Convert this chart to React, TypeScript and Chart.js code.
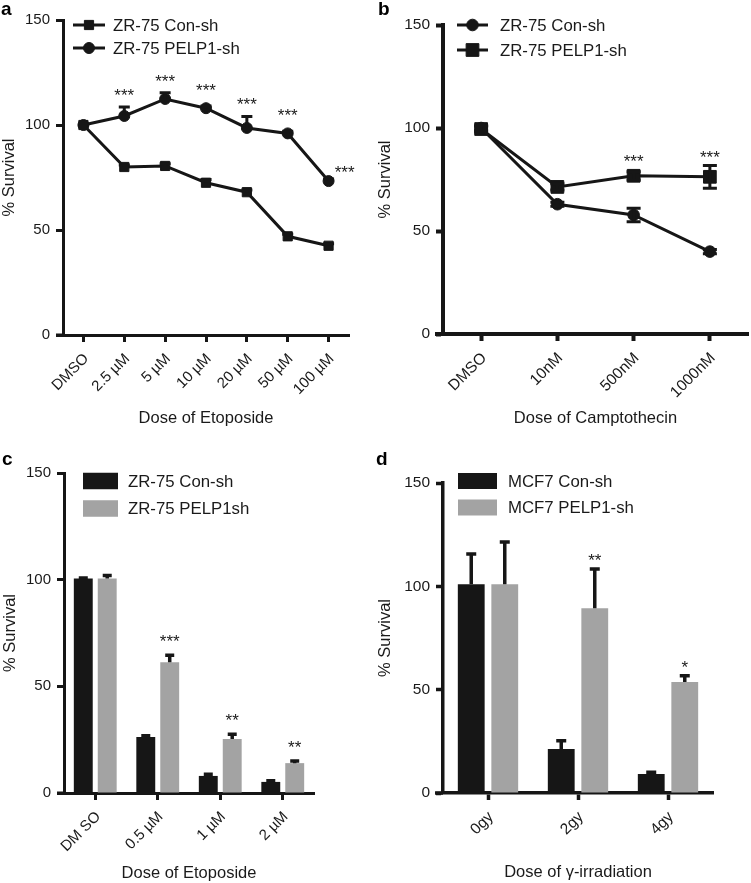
import React, { useEffect, useRef } from 'react';
import { Chart, registerables } from 'chart.js';

Chart.register(...registerables);

const FONT = "'Liberation Sans', Arial, Helvetica, sans-serif";
const INK = '#161616';
const TEXT = '#1a1a1a';
const GREY = '#a3a3a3';

// ---------- Panel a: ZR-75, etoposide (line)
const aDoses = ['DMSO', '2.5 µM', '5 µM', '10 µM', '20 µM', '50 µM', '100 µM'];
const aConSh = [100, 80, 80.5, 72.5, 68, 47, 42.5];
const aConShErr = [0, 1, 1, 1.5, 1, 1, 1];
const aPelp1Sh = [100, 104.3, 112.4, 108, 98.6, 96, 73.3];
const aPelp1ShErr = [0, 4.3, 3, 1, 5.5, 1, 1];
const aSig = ['', '***', '***', '***', '***', '***', '***'];

// ---------- Panel b: ZR-75, camptothecin (line)
const bDoses = ['DMSO', '10nM', '500nM', '1000nM'];
const bConSh = [100, 63, 57.8, 40];
const bConShErr = [1, 1, 3.3, 1];
const bPelp1Sh = [99.5, 71.4, 76.8, 76.3];
const bPelp1ShErr = [1.5, 1.5, 2, 5.5];
const bSig = ['', '', '***', '***'];

// ---------- Panel c: ZR-75, etoposide (bars)
const cDoses = ['DM SO', '0.5 µM', '1 µM', '2 µM'];
const cConSh = [100.5, 26.3, 8, 5.2];
const cConShErr = [0.3, 0.5, 0.8, 0.5];
const cPelp1sh = [100.5, 61.3, 25.3, 14];
const cPelp1shErr = [1.5, 3.3, 2.2, 1];
const cSig = ['', '***', '**', '**'];

// ---------- Panel d: MCF7, gamma irradiation (bars)
const dDoses = ['0gy', '2gy', '4gy'];
const dConSh = [101, 21.3, 9.2];
const dConShErr = [14.6, 4, 0.8];
const dPelp1Sh = [101, 89.4, 53.7];
const dPelp1ShErr = [20.4, 19, 3];
const dSig = ['', '**', '*'];

const yTicks = [0, 50, 100, 150];

// ---------- plugins
type ErrOpts = { upperOnly: boolean; cap: number; width: number };
const errorBars = (o: ErrOpts) => ({
  id: 'errorBars',
  afterDatasetsDraw(chart: any) {
    const { ctx } = chart;
    const ys = chart.scales.y;
    chart.data.datasets.forEach((ds: any, di: number) => {
      const errs: number[] | undefined = ds.errors;
      if (!errs) return;
      chart.getDatasetMeta(di).data.forEach((el: any, i: number) => {
        const e = errs[i];
        if (!e) return;
        const v = ds.data[i];
        const x = el.x;
        const top = ys.getPixelForValue(v + e);
        const bot = o.upperOnly ? ys.getPixelForValue(v) : ys.getPixelForValue(v - e);
        ctx.save();
        ctx.strokeStyle = INK;
        ctx.lineWidth = o.width;
        ctx.beginPath();
        ctx.moveTo(x, bot);
        ctx.lineTo(x, top);
        ctx.moveTo(x - o.cap, top);
        ctx.lineTo(x + o.cap, top);
        if (!o.upperOnly) {
          ctx.moveTo(x - o.cap, bot);
          ctx.lineTo(x + o.cap, bot);
        }
        ctx.stroke();
        ctx.restore();
      });
    });
  },
});

type SigOpts = { dataset: number; gap: number; size: number; clear: number; sideLast?: boolean };
const sigMarks = (labels: string[], o: SigOpts) => ({
  id: 'sigMarks',
  afterDatasetsDraw(chart: any) {
    const { ctx } = chart;
    const ys = chart.scales.y;
    const ds: any = chart.data.datasets[o.dataset];
    const meta = chart.getDatasetMeta(o.dataset);
    ctx.save();
    ctx.fillStyle = TEXT;
    ctx.font = `${o.size}px ${FONT}`;
    ctx.textAlign = 'center';
    ctx.textBaseline = 'alphabetic';
    labels.forEach((lab, i) => {
      if (!lab) return;
      const el: any = meta.data[i];
      const v = ds.data[i];
      const e = (ds.errors && ds.errors[i]) || 0;
      let x = el.x;
      let cy = Math.min(ys.getPixelForValue(v + e), el.y - o.clear) - o.gap;
      if (o.sideLast && i === labels.length - 1) {
        x = el.x + 16;
        cy = el.y - 13;
      }
      ctx.fillText(lab, x, cy + o.size * 0.58);
    });
    ctx.restore();
  },
});

type LegendItem = { text: string; kind: 'line' | 'box'; shape?: 'rect' | 'circle'; radius?: number; color: string };
type LegendLayout = { x0: number; x1: number; textX: number; ys: number[]; boxH?: number; size: number; lineWidth?: number };
const panelLegend = (items: LegendItem[], L: LegendLayout) => ({
  id: 'panelLegend',
  afterDraw(chart: any) {
    const { ctx, chartArea: ca } = chart;
    ctx.save();
    items.forEach((it, k) => {
      const y = ca.top + L.ys[k];
      const x0 = ca.left + L.x0;
      const x1 = ca.left + L.x1;
      ctx.fillStyle = it.color;
      ctx.strokeStyle = it.color;
      if (it.kind === 'line') {
        ctx.lineWidth = L.lineWidth || 3;
        ctx.beginPath();
        ctx.moveTo(x0, y);
        ctx.lineTo(x1, y);
        ctx.stroke();
        const cx = (x0 + x1) / 2;
        const r = it.radius || 5;
        ctx.beginPath();
        if (it.shape === 'rect') {
          const h = Math.SQRT1_2 * r;
          ctx.rect(cx - h, y - h, 2 * h, 2 * h);
        } else {
          ctx.arc(cx, y, r, 0, Math.PI * 2);
        }
        ctx.fill();
        ctx.lineWidth = 1;
        ctx.stroke();
      } else {
        const h = L.boxH || 16;
        ctx.fillRect(x0, y - h / 2, x1 - x0, h);
      }
      ctx.fillStyle = TEXT;
      ctx.font = `${L.size}px ${FONT}`;
      ctx.textAlign = 'left';
      ctx.textBaseline = 'middle';
      ctx.fillText(it.text, ca.left + L.textX, y + 1);
    });
    ctx.restore();
  },
});

const frame = (letter: string, lx: number, ly: number, ext: number, bw: number) => ({
  id: 'frame',
  afterDraw(chart: any) {
    const { ctx, chartArea: ca } = chart;
    ctx.save();
    ctx.strokeStyle = INK;
    ctx.lineWidth = bw;
    ctx.beginPath();
    ctx.moveTo(ca.left - ext, ca.bottom);
    ctx.lineTo(ca.left, ca.bottom);
    ctx.stroke();
    ctx.fillStyle = '#000';
    ctx.font = `bold 19px ${FONT}`;
    ctx.textAlign = 'left';
    ctx.textBaseline = 'alphabetic';
    ctx.fillText(letter, lx, ly);
    ctx.restore();
  },
});

type AxesOpts = {
  xTitle: string; yWidth: number; xHeight: number; bw: number;
  xTitlePadBottom: number; yTitlePad: number; tickSize: number;
};
function axes(o: AxesOpts) {
  const font = { family: FONT, size: o.tickSize };
  const titleFont = { family: FONT, size: 16.5 };
  return {
    x: {
      type: 'category',
      offset: true,
      grid: { display: true, drawOnChartArea: false, drawTicks: true, tickLength: 7, tickWidth: o.bw, tickColor: INK, offset: false },
      border: { display: true, color: INK, width: o.bw },
      ticks: { color: TEXT, font, minRotation: 45, maxRotation: 45, autoSkip: false, padding: 8, labelOffset: 3 },
      title: { display: true, text: o.xTitle, color: TEXT, font: titleFont, padding: { top: 0, bottom: o.xTitlePadBottom } },
      afterFit: (s: any) => { s.height = o.xHeight; },
    },
    y: {
      min: yTicks[0],
      max: yTicks[yTicks.length - 1],
      ticks: { stepSize: yTicks[1] - yTicks[0], color: TEXT, font, padding: 6 },
      grid: { display: true, drawOnChartArea: false, tickLength: 7, tickWidth: o.bw, tickColor: INK },
      border: { display: true, color: INK, width: o.bw },
      title: { display: true, text: '% Survival', color: TEXT, font: titleFont, padding: { top: o.yTitlePad, bottom: 0 } },
      afterFit: (s: any) => { s.width = o.yWidth; },
    },
  };
}

const baseOptions = (padding: any, scales: any) => ({
  animation: false,
  responsive: false,
  devicePixelRatio: 1,
  events: [],
  layout: { padding, autoPadding: false },
  plugins: { legend: { display: false }, tooltip: { enabled: false } },
  scales,
});

const lineDs = (label: string, data: number[], errors: number[], shape: string, radius: number) => ({
  label, data, errors,
  borderColor: INK, backgroundColor: INK, borderWidth: 3,
  pointStyle: shape, pointRadius: radius,
  pointBackgroundColor: INK, pointBorderColor: INK, pointBorderWidth: 1,
  tension: 0,
});

const barDs = (label: string, data: number[], errors: number[], color: string, cp: number, bp: number) => ({
  label, data, errors,
  backgroundColor: color, borderWidth: 0,
  categoryPercentage: cp, barPercentage: bp,
});

export default function App() {
  const refA = useRef<HTMLCanvasElement>(null);
  const refB = useRef<HTMLCanvasElement>(null);
  const refC = useRef<HTMLCanvasElement>(null);
  const refD = useRef<HTMLCanvasElement>(null);

  useEffect(() => {
    const charts: Chart[] = [];

    charts.push(new Chart(refA.current as HTMLCanvasElement, {
      type: 'line',
      data: {
        labels: aDoses,
        datasets: [
          lineDs('ZR-75 Con-sh', aConSh, aConShErr, 'rect', 6.5),
          lineDs('ZR-75 PELP1-sh', aPelp1Sh, aPelp1ShErr, 'circle', 5.5),
        ] as any,
      },
      options: baseOptions({ left: 0, top: 20, right: 26, bottom: 0 },
        axes({ xTitle: 'Dose of Etoposide', yWidth: 63, xHeight: 105, bw: 3, xTitlePadBottom: 12, yTitlePad: 0, tickSize: 15 })) as any,
      plugins: [
        errorBars({ upperOnly: true, cap: 5.5, width: 3 }),
        sigMarks(aSig, { dataset: 1, gap: 16, size: 17, clear: 6, sideLast: true }),
        panelLegend([
          { text: 'ZR-75 Con-sh', kind: 'line', shape: 'rect', radius: 6.5, color: INK },
          { text: 'ZR-75 PELP1-sh', kind: 'line', shape: 'circle', radius: 5.5, color: INK },
        ], { x0: 10, x1: 42, textX: 50, ys: [5, 28], size: 16.8, lineWidth: 3 }),
        frame('a', 1, 15, 7, 3),
      ] as any,
    }));

    charts.push(new Chart(refB.current as HTMLCanvasElement, {
      type: 'line',
      data: {
        labels: bDoses,
        datasets: [
          lineDs('ZR-75 Con-sh', bConSh, bConShErr, 'circle', 5.8),
          lineDs('ZR-75 PELP1-sh', bPelp1Sh, bPelp1ShErr, 'rect', 9),
        ] as any,
      },
      options: baseOptions({ left: 0, top: 25, right: 3, bottom: 0 },
        axes({ xTitle: 'Dose of Camptothecin', yWidth: 68, xHeight: 106, bw: 4, xTitlePadBottom: 12, yTitlePad: 1, tickSize: 15.5 })) as any,
      plugins: [
        errorBars({ upperOnly: false, cap: 7, width: 3 }),
        sigMarks(bSig, { dataset: 1, gap: 12.5, size: 17, clear: 6.5 }),
        panelLegend([
          { text: 'ZR-75 Con-sh', kind: 'line', shape: 'circle', radius: 5.8, color: INK },
          { text: 'ZR-75 PELP1-sh', kind: 'line', shape: 'rect', radius: 9, color: INK },
        ], { x0: 14, x1: 45, textX: 57, ys: [0, 25], size: 16.8, lineWidth: 3 }),
        frame('b', 3, 15, 8, 4),
      ] as any,
    }));

    charts.push(new Chart(refC.current as HTMLCanvasElement, {
      type: 'bar',
      data: {
        labels: cDoses,
        datasets: [
          barDs('ZR-75 Con-sh', cConSh, cConShErr, INK, 0.766, 0.79),
          barDs('ZR-75 PELP1sh', cPelp1sh, cPelp1shErr, GREY, 0.766, 0.79),
        ] as any,
      },
      options: baseOptions({ left: 0, top: 33, right: 61, bottom: 0 },
        axes({ xTitle: 'Dose of Etoposide', yWidth: 64, xHeight: 90, bw: 3, xTitlePadBottom: 0, yTitlePad: 1, tickSize: 15 })) as any,
      plugins: [
        errorBars({ upperOnly: true, cap: 4.5, width: 3.5 }),
        sigMarks(cSig, { dataset: 1, gap: 18, size: 17, clear: 0 }),
        panelLegend([
          { text: 'ZR-75 Con-sh', kind: 'box', color: INK },
          { text: 'ZR-75 PELP1sh', kind: 'box', color: GREY },
        ], { x0: 19, x1: 54, textX: 64, ys: [8, 35.5], boxH: 16.5, size: 16.8 }),
        frame('c', 2, 25, 7, 3),
      ] as any,
    }));

    charts.push(new Chart(refD.current as HTMLCanvasElement, {
      type: 'bar',
      data: {
        labels: dDoses,
        datasets: [
          barDs('MCF7 Con-sh', dConSh, dConShErr, INK, 0.745, 0.8),
          barDs('MCF7 PELP1-sh', dPelp1Sh, dPelp1ShErr, GREY, 0.745, 0.8),
        ] as any,
      },
      options: baseOptions({ left: 0, top: 43, right: 38, bottom: 0 },
        axes({ xTitle: 'Dose of γ-irradiation', yWidth: 68, xHeight: 90, bw: 3.5, xTitlePadBottom: 1, yTitlePad: 1, tickSize: 15.5 })) as any,
      plugins: [
        errorBars({ upperOnly: true, cap: 5, width: 3.5 }),
        sigMarks(dSig, { dataset: 1, gap: 13, size: 17, clear: 0 }),
        panelLegend([
          { text: 'MCF7 Con-sh', kind: 'box', color: INK },
          { text: 'MCF7 PELP1-sh', kind: 'box', color: GREY },
        ], { x0: 15, x1: 54, textX: 65, ys: [-2, 24.5], boxH: 16, size: 16.8 }),
        frame('d', 1, 25, 8, 3.5),
      ] as any,
    }));

    return () => { charts.forEach((c) => c.destroy()); };
  }, []);

  const box = (left: number, top: number, width: number, height: number): React.CSSProperties => ({
    position: 'absolute', left, top, width, height,
  });

  return (
    <div style={{ position: 'absolute', left: 0, top: 0, width: 751, height: 883, background: '#fff' }}>
      <canvas ref={refA} width={375} height={440} style={box(0, 0, 375, 440)} />
      <canvas ref={refB} width={376} height={440} style={box(375, 0, 376, 440)} />
      <canvas ref={refC} width={375} height={443} style={box(0, 440, 375, 443)} />
      <canvas ref={refD} width={376} height={443} style={box(375, 440, 376, 443)} />
    </div>
  );
}
